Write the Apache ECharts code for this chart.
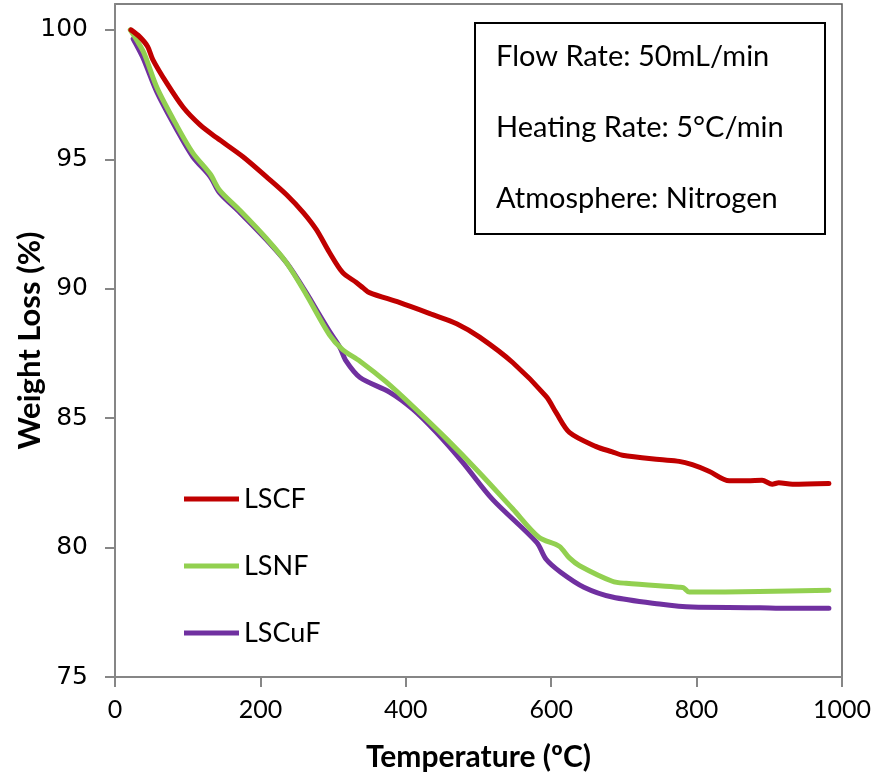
<!DOCTYPE html>
<html>
<head>
<meta charset="utf-8">
<script src="https://cdn.jsdelivr.net/npm/echarts@6/dist/echarts.min.js"></script>
<style>html,body{margin:0;padding:0;background:#fff}#c{width:880px;height:778px}</style>
</head>
<body>
<div id="c"></div>
<script>
// ---- data (temperature °C, weight %) ----
var seriesNames = ['LSCF', 'LSNF', 'LSCuF'];

var lscfT = [22, 34, 45, 52, 71, 94, 117, 140, 176, 208, 236, 259, 277, 295, 313, 332, 341, 350, 391, 437, 470, 501, 547, 593, 607, 625, 662, 684, 698, 749, 776, 794, 817, 845, 870, 890, 904, 913, 932, 982];
var lscfW = [100, 99.73, 99.35, 98.85, 97.95, 97.0, 96.33, 95.83, 95.1, 94.33, 93.63, 92.94, 92.28, 91.4, 90.63, 90.24, 90.04, 89.85, 89.47, 89.0, 88.65, 88.14, 87.15, 85.84, 85.2, 84.45, 83.9, 83.7, 83.57, 83.4, 83.33, 83.2, 82.95, 82.58, 82.58, 82.6, 82.45, 82.5, 82.45, 82.48];

var lsnfT = [21, 30, 40, 58, 85, 107, 131, 144, 172, 208, 236, 263, 295, 313, 337, 373, 410, 456, 501, 547, 583, 611, 625, 639, 684, 703, 776, 782, 790, 886, 982];
var lsnfW = [100, 99.6, 99.1, 97.75, 96.3, 95.25, 94.43, 93.8, 93.02, 91.95, 91.0, 89.78, 88.22, 87.65, 87.2, 86.4, 85.45, 84.2, 82.9, 81.5, 80.4, 80.05, 79.6, 79.3, 78.7, 78.62, 78.47, 78.45, 78.28, 78.3, 78.35];

var lscufT = [25, 38, 58, 85, 107, 131, 144, 172, 208, 236, 263, 282, 295, 309, 318, 337, 378, 410, 442, 478, 519, 580, 593, 613, 645, 684, 749, 794, 872, 909, 982];
var lscufW = [99.65, 98.95, 97.57, 96.14, 95.1, 94.33, 93.7, 92.94, 91.9, 91.0, 89.85, 88.95, 88.35, 87.75, 87.2, 86.57, 86.0, 85.34, 84.45, 83.3, 81.87, 80.2, 79.55, 79.05, 78.47, 78.09, 77.82, 77.7, 77.68, 77.66, 77.66];

var yTicks = [75, 80, 85, 90, 95, 100];
var infoLines = ['Flow Rate: 50mL/min', 'Heating Rate: 5°C/min', 'Atmosphere: Nitrogen'];

function pairs(xs, ys) { return xs.map(function (x, i) { return [x, ys[i]]; }); }

var colors = ['#C00000', '#92D050', '#7030A0'];
var dataSets = [pairs(lscfT, lscfW), pairs(lsnfT, lsnfW), pairs(lscufT, lscufW)];

var chart = echarts.init(document.getElementById('c'));
var axisGray = '#868686';

chart.setOption({
  animation: false,
  backgroundColor: '#fff',
  grid: { left: 115, right: 38, top: 4, bottom: 101, show: true, borderColor: '#595959', borderWidth: 1.5,
          containLabel: false, outerBoundsMode: 'none' },
  xAxis: {
    type: 'value', min: 0, max: 1000, interval: 200,
    name: 'Temperature (ºC)', nameLocation: 'middle', nameGap: 65, nameMoveOverlap: false,
    nameTextStyle: { fontFamily: 'Lato', fontWeight: 'bold', fontSize: 30, color: '#000' },
    axisLine: { show: true, lineStyle: { color: axisGray, width: 2 } },
    axisTick: { show: true, length: 10, lineStyle: { color: axisGray, width: 2 } },
    axisLabel: { fontFamily: 'Lato', fontSize: 25, color: '#000', margin: 20, formatter: function (v) { return String(v); } },
    splitLine: { show: false }
  },
  yAxis: {
    type: 'value', min: 75, max: 101, interval: 5,
    name: 'Weight Loss (%)', nameLocation: 'middle', nameGap: 70, nameMoveOverlap: false,
    nameTextStyle: { fontFamily: 'Lato', fontWeight: 'bold', fontSize: 31, color: '#000' },
    axisLine: { show: true, lineStyle: { color: axisGray, width: 2 } },
    axisTick: { show: true, length: 10, customValues: yTicks, lineStyle: { color: axisGray, width: 2 } },
    axisLabel: { fontFamily: 'DejaVu Sans', fontSize: 25, color: '#000', margin: 27, customValues: yTicks },
    splitLine: { show: false }
  },
  legend: {
    orient: 'vertical', left: 184, top: 484, padding: 0,
    data: seriesNames,
    icon: 'rect', itemWidth: 55, itemHeight: 5, itemGap: 37,
    textStyle: { fontFamily: 'Lato', fontSize: 27, color: '#000', lineHeight: 30 }
  },
  series: seriesNames.map(function (n, i) {
    return {
      name: n, type: 'line', data: dataSets[i], smooth: 0.3, showSymbol: false, symbol: 'none',
      color: colors[i], lineStyle: { color: colors[i], width: 5, cap: 'round', join: 'round' },
      z: 3 - i
    };
  }),
  graphic: [{
    type: 'group', left: 474, top: 22,
    children: [
      { type: 'rect', shape: { x: 0, y: 0, width: 350, height: 211 }, style: { fill: '#fff', stroke: '#000', lineWidth: 2 } }
    ].concat(infoLines.map(function (t, i) {
      return { type: 'text', x: 21, y: 34 + i * 71, style: { text: t, font: '29px Lato', fill: '#000', textVerticalAlign: 'middle' } };
    }))
  }]
});
</script>
</body>
</html>
